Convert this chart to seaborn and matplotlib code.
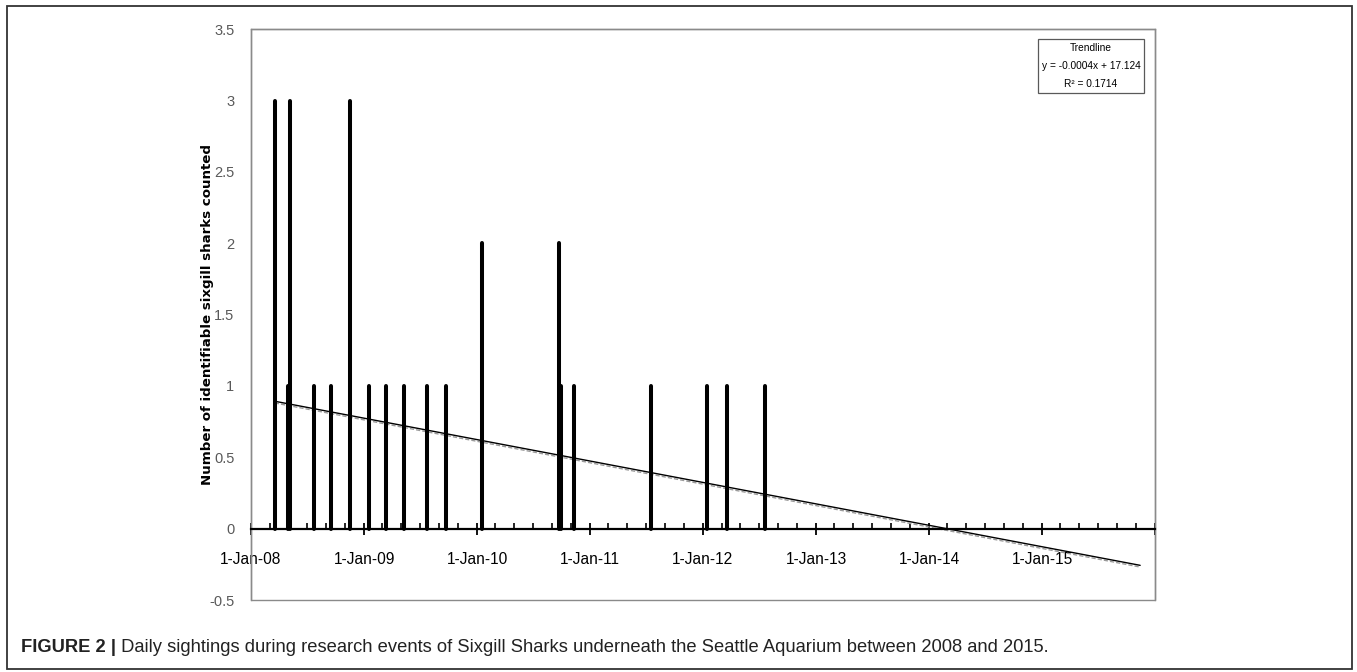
import matplotlib
matplotlib.use("Agg")
import matplotlib.pyplot as plt
import matplotlib.dates as mdates
from matplotlib.patches import Rectangle
from matplotlib.ticker import FuncFormatter, MultipleLocator
import pandas as pd
import seaborn as sns

# sighting days and number of sharks counted
sighting_dates = ["2008-03-18", "2008-05-01", "2008-05-06", "2008-07-22", "2008-09-14",
                  "2008-11-16", "2009-01-15", "2009-03-11", "2009-05-10", "2009-07-23",
                  "2009-09-21", "2010-01-16", "2010-09-23", "2010-09-28", "2010-11-10",
                  "2011-07-17", "2012-01-13", "2012-03-17", "2012-07-19"]
shark_counts = [3, 1, 3, 1, 1,
                3, 1, 1, 1, 1,
                1, 2, 2, 1, 1,
                1, 1, 1, 1]

# linear trendline end points (Excel trendline)
trend_dates = ["2008-03-18", "2015-11-14"]
trend_values = [0.893, -0.257]
trend_text = ["Trendline", "y = -0.0004x + 17.124", "R\u00b2 = 0.1714"]

caption_bold = "FIGURE 2 |"
caption_text = " Daily sightings during research events of Sixgill Sharks underneath the Seattle Aquarium between 2008 and 2015."

df = pd.DataFrame({"date": pd.to_datetime(sighting_dates), "count": shark_counts})
trend = pd.DataFrame({"date": pd.to_datetime(trend_dates), "value": trend_values})

sns.set_theme(style="white")
plt.rcParams["font.family"] = ["Liberation Sans", "DejaVu Sans"]

W, H = 1357, 672
fig = plt.figure(figsize=(W / 100, H / 100), dpi=100)
ax = fig.add_axes([251 / W, 1 - 600 / H, (1155 - 251) / W, (600 - 29.3) / H])

# trendline with its grey shadow
shadow = trend.copy()
shadow["value"] = shadow["value"] - 0.012
sns.lineplot(data=shadow, x="date", y="value", ax=ax, color="#9a9a9a", lw=1.0,
             linestyle=(0, (3, 1.5)), zorder=2)
sns.lineplot(data=trend, x="date", y="value", ax=ax, color="black", lw=1.0, zorder=3)

# daily sighting spikes
ax.vlines(df["date"], 0, df["count"], colors="black", lw=2.9, zorder=4, capstyle="round")

ax.set_xlim(pd.Timestamp("2008-01-01"), pd.Timestamp("2016-01-01"))
ax.set_ylim(-0.5, 3.5)
ax.set_xlabel("")
ax.set_ylabel("")

# x axis at y = 0, like Excel
ax.spines["bottom"].set_position(("data", 0))
ax.spines["bottom"].set_color("black")
ax.spines["bottom"].set_linewidth(1.6)
ax.spines["bottom"].set_zorder(5)
for s in ["left", "top", "right"]:
    ax.spines[s].set_color("#8a8a8a")
    ax.spines[s].set_linewidth(1.0)
# plot area border at the bottom
ax.add_patch(Rectangle((0, 0), 1, 1, transform=ax.transAxes, fill=False,
                       edgecolor="#8a8a8a", lw=1.0, clip_on=False, zorder=1))


def date_label(v, p):
    d = mdates.num2date(v)
    if d.year >= 2016:
        return ""
    return f"{d.day}-{d:%b-%y}"


ax.xaxis.set_major_locator(mdates.YearLocator())
ax.xaxis.set_minor_locator(mdates.MonthLocator(bymonth=[3, 5, 7, 9, 11]))
ax.xaxis.set_major_formatter(FuncFormatter(date_label))
ax.tick_params(axis="x", which="major", direction="inout", length=9, width=1.3,
               color="black", labelsize=11.2, labelcolor="black", pad=12, bottom=True)
ax.tick_params(axis="x", which="minor", direction="in", length=4, width=1.2,
               color="black", bottom=True)

ax.yaxis.set_major_locator(MultipleLocator(0.5))
ax.yaxis.set_major_formatter(FuncFormatter(lambda v, p: f"{v:g}"))
ax.tick_params(axis="y", which="major", length=0, labelsize=10.5,
               labelcolor="#595959", pad=12, left=True)

fig.text(207 / W, 1 - 314.5 / H, "Number of identifiable sixgill sharks counted",
         rotation=90, ha="center", va="center", fontsize=9.6, fontweight="bold",
         family=["DejaVu Sans"], color="black")

fig.text(1091 / W, 1 - 66 / H, "\n".join(trend_text), ha="center", va="center",
         multialignment="center", fontsize=7.3, linespacing=2.0, color="black",
         bbox=dict(boxstyle="square,pad=0.35", facecolor="white", edgecolor="#595959", lw=0.9))

# outer figure frame
fig.add_artist(Rectangle((7 / W, 1 - 669 / H), (1352 - 7) / W, (669 - 6) / H,
                         transform=fig.transFigure, fill=False, edgecolor="#333333", lw=1.3))

t1 = fig.text(21 / W, 1 - 647 / H, caption_bold, ha="left", va="center", fontsize=13.2,
              fontweight="bold", color="#222222")
ax.annotate(caption_text, xy=(1, 0.5), xycoords=t1, ha="left", va="center",
            fontsize=13.2, color="#222222", annotation_clip=False)

fig.savefig("out.png", dpi=100)
